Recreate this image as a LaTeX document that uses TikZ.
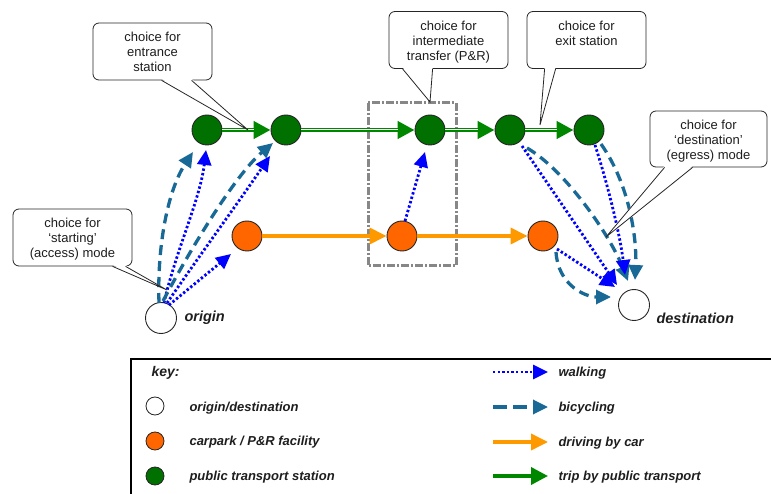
\documentclass[tikz,border=0pt]{standalone}
\usepackage{fontspec}
\setmainfont{Liberation Sans}
\usetikzlibrary{arrows.meta,calc}

\definecolor{stgreen}{RGB}{0,112,0}
\definecolor{ptgreen}{RGB}{0,135,0}
\definecolor{cporange}{RGB}{255,102,0}
\definecolor{caramber}{RGB}{255,153,0}
\definecolor{walkblue}{RGB}{0,0,255}
\definecolor{bikeblue}{RGB}{25,105,150}
\definecolor{inkgray}{RGB}{30,30,30}
\definecolor{boxgray}{RGB}{135,135,135}

% text of a speech bubble, hung from the top of the bubble
\newcommand\bubbletext[1]{\parbox[c][38pt][t]{116pt}{\centering #1}}

\begin{document}
\begin{tikzpicture}[x=1pt,y=-1pt,
  place/.style={circle, draw=black!85, line width=0.9pt, minimum size=30pt, inner sep=0pt},
  station/.style={place, fill=stgreen},
  carpark/.style={place, fill=cporange},
  endpt/.style={place, fill=white, minimum size=31pt},
  walk/.style={draw=walkblue, line width=2.8pt, dash pattern=on 2.4pt off 2.2pt,
    -{Triangle[length=15pt,width=14pt]}},
  bike/.style={draw=bikeblue, line width=3.3pt, dash pattern=on 10pt off 6pt,
    -{Triangle[length=15pt,width=14pt]}},
  car/.style={draw=caramber, line width=3.6pt, -{Triangle[length=17pt,width=16pt]}},
  ptline/.style={draw=ptgreen, line width=4.4pt, -{Triangle[length=17pt,width=17pt]}},
  ptcore/.style={draw=white, line width=1pt},
  bubble/.style={draw=black!85, fill=white, line width=0.8pt, rounded corners=6pt,
    minimum width=119pt, minimum height=57pt, inner sep=0pt,
    font=\fontsize{13}{15}\selectfont, text=inkgray},
  pointer/.style={draw=black!85, line width=0.8pt},
  placelabel/.style={font=\fontsize{14.5}{17}\selectfont\bfseries\itshape, text=inkgray, anchor=west},
  keylabel/.style={font=\fontsize{13}{15}\selectfont\bfseries\itshape, text=inkgray, anchor=west},
  keydot/.style={place, minimum size=18pt, line width=0.8pt},
]
\useasboundingbox (0,0) rectangle (771,494);

% ---- places ----
\node[endpt]   (origin) at (161,318) {};
\node[endpt]   (dest)   at (634,305) {};
\node[station] (G1) at (207,130) {};
\node[station] (G2) at (286,130) {};
\node[station] (G3) at (430,130) {};
\node[station] (G4) at (510,130) {};
\node[station] (G5) at (589,130) {};
\node[carpark] (O1) at (247,236) {};
\node[carpark] (O2) at (402,236) {};
\node[carpark] (O3) at (543,236) {};

\node[placelabel] (originlbl) at (181,318) {origin};
\node[placelabel] (destlbl)   at (653,318) {destination};

% ---- transfer zone ----
\draw[boxgray, line width=3pt, dash pattern=on 8pt off 2pt on 2pt off 2pt]
  (368,103) rectangle (456,266);

% ---- public transport (double line) ----
\foreach \a/\b in {G1/G2, G2/G3, G3/G4, G4/G5}{
  \draw[ptline] (\a.east) -- (\b.west);
  \draw[ptcore] (\a.east) -- ($(\b.west)+(-17,0)$);
}

% ---- car ----
\draw[car] (O1.east) -- (O2.west);
\draw[car] (O2.east) -- (O3.west);

% ---- access legs ----
\draw[bike] ($(origin)+(-2,-15)$) .. controls (157,245) and (168,190) .. ($(G1)+(-14,22)$);
\draw[walk] ($(origin)+(3,-15)$) .. controls (176,250) and (200,200) .. ($(G1)+(-1,20)$);
\draw[bike] ($(origin)+(2,-17)$) .. controls (190,250) and (235,175) .. ($(G2)+(-13,13)$);
\draw[walk] ($(origin)+(6,-15)$) .. controls (200,255) and (240,200) .. ($(G2)+(-16,26)$);
\draw[walk] ($(origin)+(8,-13)$) -- ($(O1)+(-16,18)$);

% ---- transfer walk ----
\draw[walk] ($(O2)+(3,-15)$) -- ($(G3)+(-5,22)$);

% ---- egress legs ----
\draw[walk] ($(G4)+(12,16)$) -- ($(dest)+(-17,-20)$);
\draw[bike] ($(G4)+(17,18)$) .. controls (565,170) and (610,235) .. ($(dest)+(-6,-24)$);
\draw[walk] ($(G5)+(6,15)$) .. controls (608,185) and (620,235) .. ($(dest)+(-9,-30)$);
\draw[bike] ($(G5)+(12,14)$) .. controls (630,185) and (637,240) .. ($(dest)+(1,-25)$);
\draw[walk] ($(O3)+(14,13)$) -- ($(dest)+(-19,-18)$);
\draw[bike] ($(O3)+(13,16)$) .. controls (558,285) and (585,297) .. ($(dest)+(-23,-8)$);

% ---- speech bubbles ----
\node[bubble] (cEntr) at (152.5,51.5) {\bubbletext{choice for\\entrance\\station}};
\node[bubble] (cAcc)  at (72.5,237.5) {\bubbletext{choice for\\`starting'\\(access) mode}};
\node[bubble] (cMid)  at (448.5,40) {\bubbletext{choice for\\intermediate\\transfer (P\&R)}};
\node[bubble] (cExit) at (586.5,40) {\bubbletext{choice for\\exit station}};
\node[bubble, minimum width=117pt, minimum height=56pt] (cEgr) at (708.5,139)
  {\bubbletext{choice for\\`destination'\\(egress) mode}};

\coordinate (tEntr) at (248,130);
\coordinate (tAcc)  at (167,290);
\coordinate (tMid)  at (430,102);
\coordinate (tExit) at (540,125);
\coordinate (tEgr)  at (606,237);

\foreach \b/\t/\p/\q in {cEntr/tEntr/69/99, cAcc/tAcc/100/113, cMid/tMid/14/44,
                         cExit/tExit/18/29, cEgr/tEgr/15/43}{
  \fill[white] ($(\b.south west)+(\p,-1.5)$) -- (\t) -- ($(\b.south west)+(\q,-1.5)$) -- cycle;
  \draw[pointer] ($(\b.south west)+(\p,0)$) -- (\t) -- ($(\b.south west)+(\q,0)$);
}

% ---- key ----
\draw[black, line width=2pt] (771,359) -- (131,359) -- (131,494);
\node[keylabel, font=\fontsize{14}{16}\selectfont\bfseries\itshape] (keyhead) at (148,373) {key:};

\node[keydot, fill=white]     (kOD) at (155,406) {};
\node[keydot, fill=cporange]  (kCP) at (155,441) {};
\node[keydot, fill=stgreen]   (kPT) at (155,476) {};
\node[keylabel] (kODl) at (186,408) {origin/destination};
\node[keylabel] (kCPl) at (186,442) {carpark / P\&R facility};
\node[keylabel] (kPTl) at (186,477) {public transport station};

\coordinate (kWa) at (493,372); \coordinate (kWb) at (548,372);
\coordinate (kBa) at (493,407); \coordinate (kBb) at (548,407);
\coordinate (kCa) at (493,442); \coordinate (kCb) at (548,442);
\coordinate (kTa) at (493,476); \coordinate (kTb) at (548,476);
\draw[walk, -{Triangle[length=15pt,width=14pt]}] (kWa) -- (kWb);
\draw[bike, dash pattern=on 14pt off 6pt, -{Triangle[length=15pt,width=14pt]}] (kBa) -- (kBb);
\draw[car] (kCa) -- (kCb);
\draw[ptline, line width=3.6pt] (kTa) -- (kTb);
\node[keylabel] (kWl) at (555,373) {walking};
\node[keylabel] (kBl) at (555,408) {bicycling};
\node[keylabel] (kCl) at (555,443) {driving by car};
\node[keylabel] (kTl) at (555,477) {trip by public transport};
\end{tikzpicture}
\end{document}
